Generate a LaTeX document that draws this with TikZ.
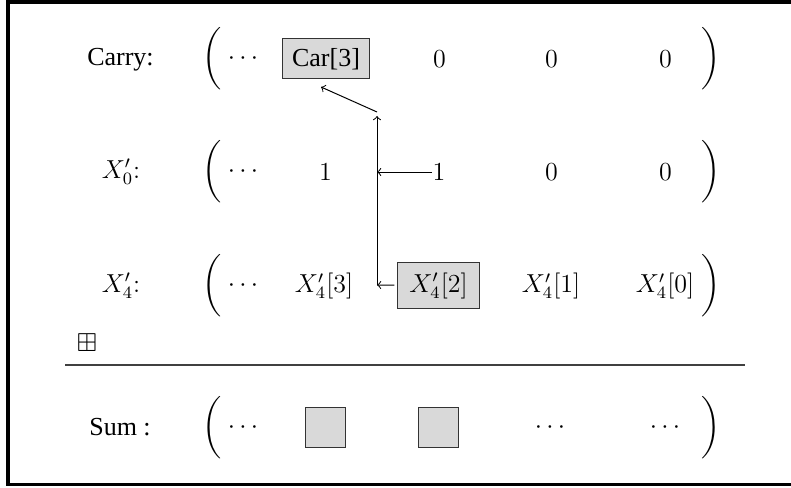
\documentclass[tikz,border=0pt]{standalone}
\usepackage{amssymb}
\usepackage[no-math]{fontspec}
\newfontfamily\tms{Liberation Serif}
\newcommand\mylp{$\left(\vcenter{\hbox{\rule{0pt}{24pt}}}\right.$}
\newcommand\myrp{$\left.\vcenter{\hbox{\rule{0pt}{24pt}}}\right)$}
\tikzset{
  base/.style={font=\fontsize{12}{14.4}\selectfont, inner sep=0pt},
  txt/.style={font=\fontsize{12}{14.4}\selectfont\tms, inner sep=0pt},
  parn/.style={font=\fontsize{12}{14.4}\selectfont, inner sep=0pt},
  gbox/.style={draw=black!80, fill=black!15, line width=0.46pt, inner sep=0pt},
  arr/.style={->, line width=0.46pt},
}
\begin{document}
\begin{tikzpicture}[x=0.4615pt,y=-0.4615pt]
\useasboundingbox (0,0) rectangle (791,487);
% frame
\draw[line width=1.6pt] (805,2) -- (8,2) -- (8,484.5) -- (805,484.5);

% labels
\node[txt] (lc) at (120.5,60) {Carry:};
\node[base] (l0) at (121,172) {$X'_0$:};
\node[base] (l4) at (121,286) {$X'_4$:};
\node[txt] (ls) at (120,427.5) {Sum :};

% parentheses
\foreach \r/\y in {a/59,b/172,c/286,d/427.5}{
  \node[parn] (lp\r) at (213,\y) {\mylp};
  \node[parn] (rp\r) at (710,\y) {\myrp};
  \node[base] (dots\r) at (243,\y) {$\cdots$};
}

% row 1 (carry)
\node[gbox, txt, minimum width=40.15pt, minimum height=18.46pt] (car) at (326,59) {Car[3]};
\node[base] (c2) at (439.5,59) {$0$};
\node[base] (c3) at (551.5,59) {$0$};
\node[base] (c4) at (665.5,59) {$0$};

% row 2 (X0')
\node[base] (o1) at (325.5,172) {$1$};
\node[base] (o2) at (439,172) {$1$};
\node[base] (o3) at (551.5,172) {$0$};
\node[base] (o4) at (665.5,172) {$0$};

% row 3 (X4')
\node[base] (x3) at (324,286) {$X'_4[3]$};
\node[gbox, base, minimum width=37.4pt, minimum height=20.8pt] (x2) at (438.5,285.5) {$X'_4[2]$};
\node[base] (x1) at (551,286) {$X'_4[1]$};
\node[base] (x0) at (665,286) {$X'_4[0]$};

% boxplus and rule
\node[base] (bp) at (87,343) {$\boxplus$};
\draw[black!75, line width=0.55pt] (65,365) -- (745,365);

% sum row
\node[gbox, minimum width=18.46pt, minimum height=18.46pt] (s1) at (325,427.5) {};
\node[gbox, minimum width=18.46pt, minimum height=18.46pt] (s2) at (438.5,427.5) {};
\node[base] (s3) at (550,427.5) {$\cdots$};
\node[base] (s4) at (665,427.5) {$\cdots$};

% connectors
\coordinate (vb) at (377,285);
\coordinate (vm) at (377,172);
\coordinate (vt) at (377,116);
\coordinate (dt) at (377,112);
\coordinate (de) at (321,87);
\draw[arr] (vb) -- (vt);
\draw[arr, shorten <=1.4pt] (x2) -- (vb);
\draw[arr] (o2) -- (vm);
\draw[arr] (dt) -- (de);
\end{tikzpicture}
\end{document}
